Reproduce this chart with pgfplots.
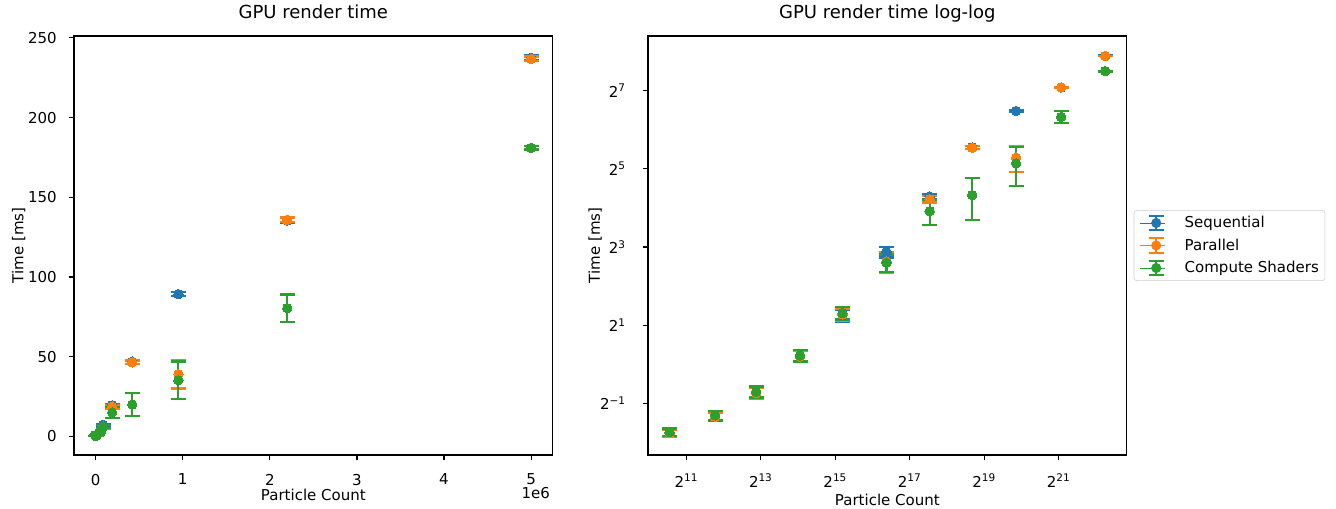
\documentclass[border=0pt]{standalone}
\usepackage{pgfplots}
\pgfplotsset{compat=1.18}
\usepackage{pgfplotstable}
\usepackage{fontspec}
\setmainfont{DejaVu Sans}
\definecolor{tabblue}{HTML}{1F77B4}
\definecolor{taborange}{HTML}{FF7F0E}
\definecolor{tabgreen}{HTML}{2CA02C}

\pgfplotstableread{
x y e
1500 0.300 0.020
3500 0.400 0.030
7500 0.610 0.055
17000 1.16 0.11
37500 2.38 0.25
85000 7.33 0.68
190000 19.6 1.0
420000 46.9 1.2
950000 89.3 1.3
2200000 135.5 1.5
5000000 237.5 1.5
}\seqdata

\pgfplotstableread{
x y e
1500 0.295 0.020
3500 0.395 0.030
7500 0.600 0.055
17000 1.15 0.11
37500 2.42 0.25
85000 6.2 1.15
190000 18.7 1.1
420000 46.5 1.2
950000 39.1 9.0
2200000 135.8 1.5
5000000 236.8 1.5
}\pardata

\pgfplotstableread{
x y e
1500 0.300 0.020
3500 0.405 0.035
7500 0.615 0.060
17000 1.17 0.12
37500 2.48 0.27
85000 6.06 0.95
190000 15.1 3.3
420000 20.1 7.2
950000 35.3 11.8
2200000 80.5 8.6
5000000 181 1.0
}\comdata

\newcommand{\fnt}{\fontsize{10.85}{13}\selectfont}
\pgfplotsset{
  myaxis/.style={
    scale only axis, width=344.7bp, height=301.7bp, anchor=south west,
    axis line style={line width=0.85bp, black},
    tick align=outside, major tick length=3.8bp,
    every tick/.style={black, line width=0.85bp},
    tick pos=left,
    tick label style={font=\fnt, inner sep=0pt},
    xticklabel style={anchor=north, yshift=-9.6bp},
    title style={font=\fontsize{13}{15}\selectfont, anchor=base, at={([yshift=6.3bp]axis description cs:0.5,1)}},
    label style={font=\fnt},
    minor xtick={}, minor ytick={},
  },
  errp/.style={only marks, mark=*, color=#1, mark size=3.4bp,
    mark options={line width=0bp, fill=#1},
    error bars/.cd, y dir=both, y explicit, error mark=|,
    error bar style={line width=1.6bp, color=#1},
    error mark options={line width=1.6bp, mark size=5.4bp, color=#1}},
  lgerr/.style={legend image code/.code={
      \path (-11.5bp,0bp) -- (6.2bp,0bp);
      \draw[color=#1, line width=1.6bp] (0bp,-5.3bp) -- (0bp,5.3bp)
        (-5.4bp,-5.3bp) -- (5.4bp,-5.3bp) (-5.4bp,5.3bp) -- (5.4bp,5.3bp);
      \fill[color=#1] (0bp,0bp) circle (3.4bp);
  }},
}

\begin{document}
\begin{tikzpicture}
\useasboundingbox (0,0) rectangle (961.92bp,366.48bp);

\begin{axis}[myaxis, at={(53.28bp,38.88bp)},
  title={GPU render time},
  xlabel={Particle Count}, ylabel={Time [ms]},
  xlabel style={anchor=base, at={([yshift=-32.8bp]axis description cs:0.5,0)}},
  ylabel style={anchor=base, at={([xshift=-36.4bp]axis description cs:0,0.5)}},
  xmin=-248500, xmax=5248500, ymin=-11.6, ymax=251.2,
  scaled x ticks=false,
  xtick={0,1000000,2000000,3000000,4000000,5000000},
  xticklabels={0,1,2,3,4,5},
  ytick={0,50,100,150,200,250},
  yticklabels={0,50,100,150,200,250},
  yticklabel style={anchor=east, xshift=-8.4bp},
  after end axis/.code={
    \node[anchor=base east, font=\fnt, inner sep=0pt] at ([xshift=-1.9bp,yshift=-31.2bp]rel axis cs:1,0) {1e6};
  },
]
\addplot+[errp=tabblue] table[x=x, y=y, y error=e] {\seqdata};
\addplot+[errp=taborange] table[x=x, y=y, y error=e] {\pardata};
\addplot+[errp=tabgreen] table[x=x, y=y, y error=e] {\comdata};
\end{axis}

\begin{axis}[myaxis, at={(466.56bp,38.88bp)},
  title={GPU render time log-log},
  xlabel={Particle Count}, ylabel={Time [ms]},
  xlabel style={anchor=base, at={([yshift=-36bp]axis description cs:0.5,0)}},
  ylabel style={anchor=base, at={([xshift=-34.7bp]axis description cs:0,0.5)}},
  xmode=log, ymode=log, log basis x=2, log basis y=2,
  xmin=1003, xmax=7457000, ymin=0.2003, ymax=337.8,
  xtick={2048,8192,32768,131072,524288,2097152},
  xticklabels={2\textsuperscript{11},2\textsuperscript{13},2\textsuperscript{15},2\textsuperscript{17},2\textsuperscript{19},2\textsuperscript{21}},
  ytick={0.5,2,8,32,128},
  yticklabels={2\textsuperscript{−1},2\textsuperscript{1},2\textsuperscript{3},2\textsuperscript{5},2\textsuperscript{7}},
  yticklabel style={anchor=east, xshift=-12bp},
  legend style={at={([xshift=5bp]rel axis cs:1,0.5)}, anchor=west,
    draw=black!20, rounded corners=2bp, fill=white,
    font=\fnt,
    inner xsep=4.3bp, inner ysep=3bp, row sep=4bp, column sep=14.1bp,
    nodes={inner sep=0pt}},
  legend cell align=left,
]
\addplot+[lgerr=tabblue, errp=tabblue] table[x=x, y=y, y error=e] {\seqdata};
\addplot+[lgerr=taborange, errp=taborange] table[x=x, y=y, y error=e] {\pardata};
\addplot+[lgerr=tabgreen, errp=tabgreen] table[x=x, y=y, y error=e] {\comdata};
\legend{Sequential, Parallel, Compute Shaders}
\end{axis}
\end{tikzpicture}
\end{document}
